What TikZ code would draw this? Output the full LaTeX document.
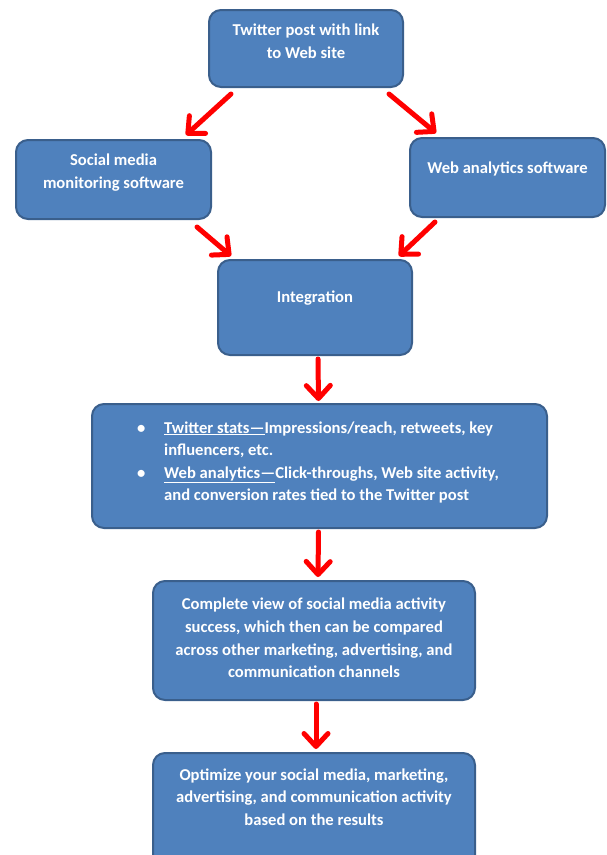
\documentclass[tikz,border=0pt]{standalone}
\usepackage{fontspec}
\setmainfont{Carlito}
\usetikzlibrary{arrows.meta,calc}
\definecolor{boxfill}{HTML}{4F81BD}
\definecolor{boxline}{HTML}{3A5F8C}
\definecolor{arrred}{HTML}{FF0000}
\begin{document}
\begin{tikzpicture}[x=1pt,y=-1pt,
  box/.style={draw=boxline,line width=2pt,fill=boxfill,rounded corners=12pt,inner sep=0pt},
  txt/.style={text=white,font=\bfseries\fontsize{16.6}{22.6}\selectfont,align=center,inner sep=0pt},
  arr/.style={draw=arrred,line width=5pt,line cap=round,line join=round,
    -{Straight Barb[length=13pt,width=24pt,round]}}]
\useasboundingbox (0,0) rectangle (606,855);
% boxes
\node[box,minimum width=194pt,minimum height=77pt] (b1) at (306,48.5) {};
\node[box,minimum width=195pt,minimum height=79pt] (b2) at (113.5,179.5) {};
\node[box,minimum width=195pt,minimum height=79pt] (b3) at (507.5,177.5) {};
\node[box,minimum width=194pt,minimum height=95pt] (b4) at (315,307.5) {};
\node[box,minimum width=455pt,minimum height=124pt] (b5) at (319.5,466) {};
\node[box,minimum width=322pt,minimum height=119pt] (b6) at (314,640.5) {};
\node[box,minimum width=322pt,minimum height=120pt] (b7) at (314,813) {};
% texts
\node[txt] (t1) at (306,41) {Twitter post with link\\to Web site};
\node[txt] (t2) at (113.5,172.5) {Social media\\monitoring software};
\node[txt] (t3) at (507.5,169) {Web analytics software};
\node[txt] (t4) at (315,298) {Integration};
\node[txt,align=left,anchor=west] (t5) at (137,462.5) {%
  \makebox[27pt][l]{\textbullet}\underline{Twitter stats—}Impressions/reach, retweets, key\\
  \hspace*{27pt}influencers, etc.\\
  \makebox[27pt][l]{\textbullet}\underline{Web analytics—}Click-throughs, Web site activity,\\
  \hspace*{27pt}and conversion rates tied to the Twitter post};
\node[txt] (t6) at (314,638) {Complete view of social media activity\\success, which then can be compared\\across other marketing, advertising, and\\communication channels};
\node[txt] (t7) at (314,797) {Optimize your social media, marketing,\\advertising, and communication activity\\based on the results};
% arrows
\draw[arr] ([xshift=23pt,yshift=-6pt]b1.south west) -- ([xshift=171pt,yshift=4pt]b2.north west);
\draw[arr] ([xshift=-15pt,yshift=-6pt]b1.south east) -- ([xshift=-170pt,yshift=4pt]b3.north east);
\draw[arr] ([xshift=-15pt,yshift=-7pt]b2.south east) -- ([xshift=14pt,yshift=3pt]b4.north west);
\draw[arr] ([xshift=26pt,yshift=-4pt]b3.south west) -- ([xshift=-14pt,yshift=3pt]b4.north east);
\draw[arr] ([xshift=3pt,yshift=-3pt]b4.south) -- ([xshift=-1pt,yshift=2pt]b5.north);
\draw[arr] ([xshift=-1pt,yshift=-3pt]b5.south) -- ([xshift=4pt,yshift=3pt]b6.north);
\draw[arr] ([xshift=2pt,yshift=-3pt]b6.south) -- ([xshift=2pt,yshift=3pt]b7.north);
\end{tikzpicture}
\end{document}
